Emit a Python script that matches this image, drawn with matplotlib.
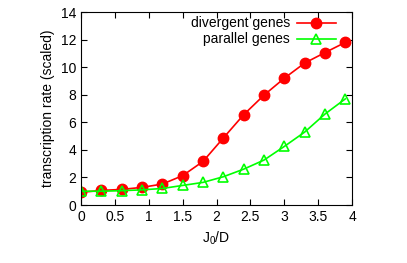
import numpy as np
import matplotlib.pyplot as plt

plt.rcParams['font.family'] = ['Liberation Sans', 'DejaVu Sans']
plt.rcParams['mathtext.fontset'] = 'custom'
plt.rcParams['mathtext.rm'] = 'Liberation Sans'

x = [0, 0.3, 0.6, 0.9, 1.2, 1.5, 1.8, 2.1, 2.4, 2.7, 3.0, 3.3, 3.6, 3.9]
divergent = [0.92, 1.06, 1.13, 1.28, 1.52, 2.13, 3.16, 4.86, 6.55, 7.97, 9.2, 10.3, 11.06, 11.8]
parallel = [1.0, 1.0, 1.04, 1.1, 1.2, 1.42, 1.64, 2.05, 2.6, 3.26, 4.25, 5.29, 6.6, 7.7]

fig = plt.figure(figsize=(4.07, 2.63), dpi=100)
ax = fig.add_axes([0.199, 0.2205, 0.666, 0.7335])

ax.plot(x, divergent, color='#ff0000', marker='o', markersize=7.5, lw=1.2,
        label='divergent genes')
ax.plot(x, parallel, color='#00ff00', marker='^', markersize=7.5, lw=1.2,
        markerfacecolor='none', markeredgewidth=1.2, label='parallel genes')

ax.set_xlim(0, 4)
ax.set_ylim(0, 14)
ax.set_xticks([0, 0.5, 1, 1.5, 2, 2.5, 3, 3.5, 4])
ax.set_xticklabels(['0', '0.5', '1', '1.5', '2', '2.5', '3', '3.5', '4'])
ax.set_yticks(range(0, 15, 2))
ax.tick_params(direction='in', top=True, right=True, labelsize=10, length=4)
ax.set_xlabel('J$_0$/D', fontsize=10)
ax.set_ylabel('transcription rate (scaled)', fontsize=10)
ax.legend(loc='upper right', bbox_to_anchor=(0.945, 0.985), frameon=False,
          markerfirst=False, fontsize=10, handlelength=2.8, borderaxespad=0,
          borderpad=0.1, labelspacing=0.15, handletextpad=0.5)

fig.savefig('out.png', dpi=100)
